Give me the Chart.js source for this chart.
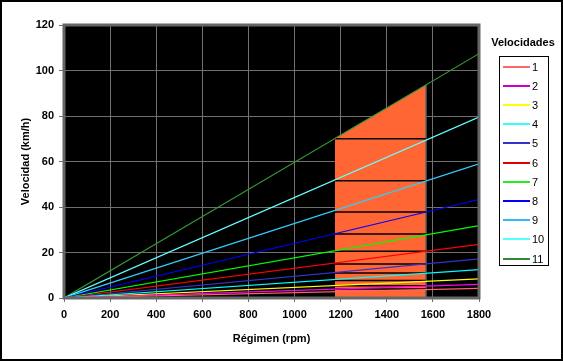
<!DOCTYPE html>
<html>
<head>
<meta charset="utf-8">
<script src="https://cdn.jsdelivr.net/npm/chart.js@4"></script>
<style>
  body { margin: 0; background: #fff; }
  #wrap { position: relative; width: 563px; height: 361px; }
  #leyenda-titulo {
    position: absolute; left: 482px; width: 82px; top: 36px;
    font: bold 11px "Liberation Sans", Arial, sans-serif; text-align: center; color: #000;
  }
  #leyenda {
    position: absolute; left: 499px; top: 56px; width: 48px; height: 208px;
    border: 1px solid #000; background: #fff;
  }
  .item { position: absolute; left: 0; height: 14px; width: 48px; }
  .item .muestra { position: absolute; left: 3px; top: 6px; width: 27px; height: 2px; }
  .item .txt { position: absolute; left: 32px; top: 0; font: 11px "Liberation Sans", Arial, sans-serif; color: #000; line-height: 14px; }
</style>
</head>
<body>
<div id="wrap">
  <canvas id="grafico" width="563" height="361"></canvas>
  <div id="leyenda-titulo">Velocidades</div>
  <div id="leyenda"></div>
</div>
<script>
// --- Datos ---
const marchas = ['1', '2', '3', '4', '5', '6', '7', '8', '9', '10', '11'];
const colores = ['#FF6666', '#FF00FF', '#FFFF00', '#00FFFF', '#3333CC', '#FF0000',
                 '#00FF00', '#0000FF', '#33CCFF', '#66FFFF', '#339933'];
const coloresLeyenda = ['#FF6666', '#CC00CC', '#FFFF00', '#33FFFF', '#3333CC', '#E00000',
                        '#22EE22', '#0000FF', '#33BBEE', '#55FFFF', '#338833'];
const rpmExtremos = [0, 1800];
const velocidadA1800 = [4.2, 6.0, 8.4, 12.5, 17.2, 23.6, 31.8, 43.3, 59.0, 79.5, 107.4];

// zona de cambio (area naranja) y lineas de cambio
const zonaRpm = [1175, 1570];
const zonaTecho = [70.3, 93.7];
const cambios = [70.0, 51.5, 37.8, 28.1, 20.6, 15.0, 11.0, 7.7, 5.4, 4.0];

const ticksX = [0, 200, 400, 600, 800, 1000, 1200, 1400, 1600, 1800];
const ticksY = [0, 20, 40, 60, 80, 100, 120];

const fuente = { family: '"Liberation Sans", Arial, sans-serif', size: 11, weight: 'bold' };

// --- Series ---
const datasets = [];

marchas.forEach((m, i) => {
    datasets.push({
        label: m,
        data: [{ x: rpmExtremos[0], y: 0 }, { x: rpmExtremos[1], y: velocidadA1800[i] }],
        borderColor: colores[i],
        borderWidth: 1.2,
        pointRadius: 0,
        order: 0
    });
});

cambios.forEach(c => {
    datasets.push({
        label: 'cambio',
        data: [{ x: zonaRpm[0], y: c }, { x: zonaRpm[1], y: c }],
        borderColor: '#000000',
        borderWidth: 1.5,
        pointRadius: 0,
        order: 1
    });
});

datasets.push({
    label: 'borde',
    data: [{ x: zonaRpm[1], y: 0 }, { x: zonaRpm[1], y: zonaTecho[1] }],
    borderColor: '#666666',
    borderWidth: 1.5,
    pointRadius: 0,
    order: 1
});

datasets.push({
    label: 'zona',
    data: [{ x: zonaRpm[0], y: zonaTecho[0] }, { x: zonaRpm[1], y: zonaTecho[1] }],
    borderColor: '#FF6633',
    borderWidth: 0,
    backgroundColor: '#FF6633',
    fill: 'origin',
    pointRadius: 0,
    order: 2
});

// fondo blanco, marco exterior, area de trazado negra, marco gris
const fondo = {
    id: 'fondo',
    beforeDraw(chart) {
        const ctx = chart.ctx;
        const a = chart.chartArea;
        ctx.save();
        ctx.fillStyle = '#fff';
        ctx.fillRect(0, 0, chart.width, chart.height);
        ctx.fillStyle = '#000';
        ctx.fillRect(a.left, a.top, a.right - a.left, a.bottom - a.top);
        ctx.restore();
    },
    afterDraw(chart) {
        const ctx = chart.ctx;
        const a = chart.chartArea;
        ctx.save();
        ctx.strokeStyle = '#666';
        ctx.lineWidth = 3;
        ctx.strokeRect(a.left, a.top, a.right - a.left, a.bottom - a.top);
        ctx.strokeStyle = '#000';
        ctx.lineWidth = 4;
        ctx.strokeRect(0, 0, chart.width, chart.height);
        ctx.restore();
    }
};

new Chart(document.getElementById('grafico'), {
    type: 'line',
    data: { datasets: datasets },
    plugins: [fondo],
    options: {
        responsive: false,
        animation: false,
        devicePixelRatio: 1,
        layout: { padding: { left: 0, top: 25, right: 84, bottom: 0 } },
        plugins: { legend: { display: false }, tooltip: { enabled: false } },
        elements: { line: { tension: 0 } },
        scales: {
            x: {
                type: 'linear',
                min: 0, max: 1800,
                afterBuildTicks: s => { s.ticks = ticksX.map(v => ({ value: v })); },
                afterFit: s => { s.height = 63; },
                grid: { color: '#707070', lineWidth: 1, tickLength: 4 },
                border: { display: false },
                ticks: { color: '#000', font: fuente, padding: 6, maxRotation: 0, callback: v => String(v) },
                title: { display: true, text: 'Régimen (rpm)', color: '#000', font: fuente, padding: { top: 0, bottom: 15 } }
            },
            y: {
                type: 'linear',
                min: 0, max: 120,
                afterBuildTicks: s => { s.ticks = ticksY.map(v => ({ value: v })); },
                afterFit: s => { s.width = 64; },
                grid: { color: '#707070', lineWidth: 1, tickLength: 5 },
                border: { display: false },
                ticks: { color: '#000', font: fuente, padding: 5, callback: v => String(v) },
                title: { display: true, text: 'Velocidad (km/h)', color: '#000', font: fuente, padding: { top: 19, bottom: 0 } }
            }
        }
    }
});

// leyenda
const leyenda = document.getElementById('leyenda');
marchas.forEach((m, i) => {
    const it = document.createElement('div');
    it.className = 'item';
    it.style.top = (2.5 + 19.2 * i) + 'px';
    it.innerHTML = `<div class="muestra" style="background:${coloresLeyenda[i]}"></div><div class="txt">${m}</div>`;
    leyenda.appendChild(it);
});
</script>
</body>
</html>
